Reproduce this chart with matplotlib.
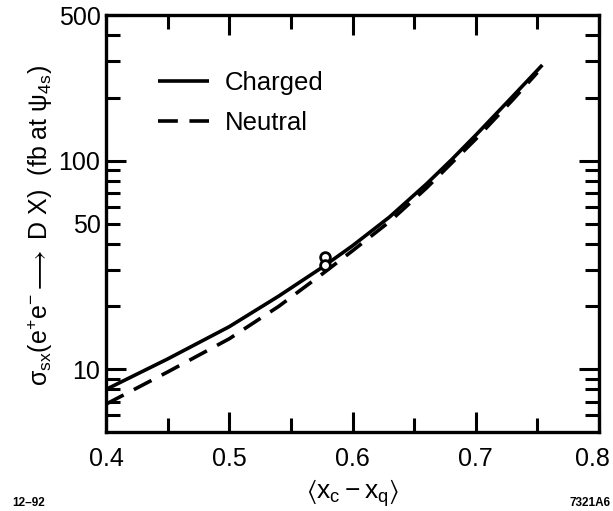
import numpy as np
import matplotlib
matplotlib.use("Agg")
import matplotlib.pyplot as plt
import matplotlib.transforms as mtransforms
from matplotlib.ticker import FixedLocator, FixedFormatter

# values (x = <x_c - x_q>, y = sigma in fb)
x_charged = [0.40, 0.45, 0.50, 0.54, 0.575, 0.60, 0.63, 0.66, 0.68, 0.70, 0.73, 0.754]
y_charged = [8.0, 11.2, 16.0, 22.4, 30.7, 39.1, 53.7, 77.4, 100.7, 132.7, 203.7, 288.0]

x_neutral = [0.40, 0.45, 0.50, 0.54, 0.575, 0.60, 0.63, 0.66, 0.70, 0.73, 0.75]
y_neutral = [6.8, 9.7, 14.0, 20.0, 28.5, 37.0, 51.0, 74.0, 127.0, 196.0, 265.0]

# the two open circles near x = 0.578
x_points = [0.578, 0.578]
y_points = [34.5, 31.5]

x_ticks = [0.4, 0.5, 0.6, 0.7, 0.8]
x_minor = [0.45, 0.55, 0.65, 0.75]
y_major = [10, 100, 500]
y_major_labels = ["10", "100", "500"]
y_minor = [6, 7, 8, 9, 20, 30, 40, 50, 60, 70, 80, 90, 200, 300, 400]

plt.rcParams["font.family"] = ["Liberation Sans", "DejaVu Sans"]
plt.rcParams["mathtext.fontset"] = "custom"
plt.rcParams["mathtext.rm"] = "Liberation Sans"
plt.rcParams["mathtext.it"] = "Liberation Sans"
plt.rcParams["mathtext.default"] = "regular"

fig = plt.figure(figsize=(6.13, 5.11), dpi=100)
ax = fig.add_axes([0.1729, 0.1546, 0.8043, 0.8160])

ax.plot(x_charged, y_charged, color="black", lw=2.6, solid_capstyle="butt", label="Charged")
ax.plot(x_neutral, y_neutral, color="black", lw=2.6, linestyle=(0, (5.5, 3.2)),
        dash_capstyle="butt", label="Neutral")
ax.plot(x_points, y_points, linestyle="none", marker="o", ms=7, mfc="white",
        mec="black", mew=2.0, zorder=5)

ax.set_yscale("log")
ax.set_xlim(0.4, 0.8)
ax.set_ylim(5, 500)

ax.xaxis.set_major_locator(FixedLocator(x_ticks))
ax.xaxis.set_minor_locator(FixedLocator(x_minor))
ax.set_xticklabels([f"{v:.1f}" for v in x_ticks])

ax.yaxis.set_major_locator(FixedLocator(y_major))
ax.yaxis.set_major_formatter(FixedFormatter(y_major_labels))
ax.yaxis.set_minor_locator(FixedLocator(y_minor))
ax.yaxis.set_minor_formatter(FixedFormatter(["50" if v == 50 else "" for v in y_minor]))

ax.tick_params(which="both", direction="in", top=True, right=True, width=2.2,
               labelsize=18, colors="black")
ax.tick_params(which="major", length=14.5)
ax.tick_params(which="minor", length=10)
ax.tick_params(axis="x", which="both", pad=11)
ax.tick_params(axis="y", which="both", pad=4)

# last x label sits on the figure edge; nudge it left a bit
last = ax.get_xticklabels()[-1]
last.set_transform(last.get_transform() +
                   mtransforms.ScaledTranslation(-5 / 72, 0, fig.dpi_scale_trans))

for s in ax.spines.values():
    s.set_linewidth(2.4)

ax.set_xlabel(r"$\langle x_c - x_q \rangle$", fontsize=19, va="center")
ax.xaxis.set_label_coords(0.5, -0.146)
ax.set_ylabel(r"$\sigma_{sx}$(e$^{+}$e$^{-}$$\longrightarrow$ D X)  (fb at $\psi_{4s}$)",
              fontsize=18, va="center")
ax.yaxis.set_label_coords(-0.134, 0.496)

ax.legend(loc="upper left", bbox_to_anchor=(0.105, 0.866), frameon=False,
          fontsize=18.5, handlelength=2.0, handletextpad=0.62, labelspacing=0.62,
          borderpad=0, borderaxespad=0)

fig.text(12 / 613, 1 - 503 / 511, "12–92", fontsize=8.5, fontweight="bold", va="center")
fig.text(611 / 613, 1 - 503 / 511, "7321A6", fontsize=8.5, fontweight="bold",
         va="center", ha="right")

fig.savefig("out.png", dpi=100)
